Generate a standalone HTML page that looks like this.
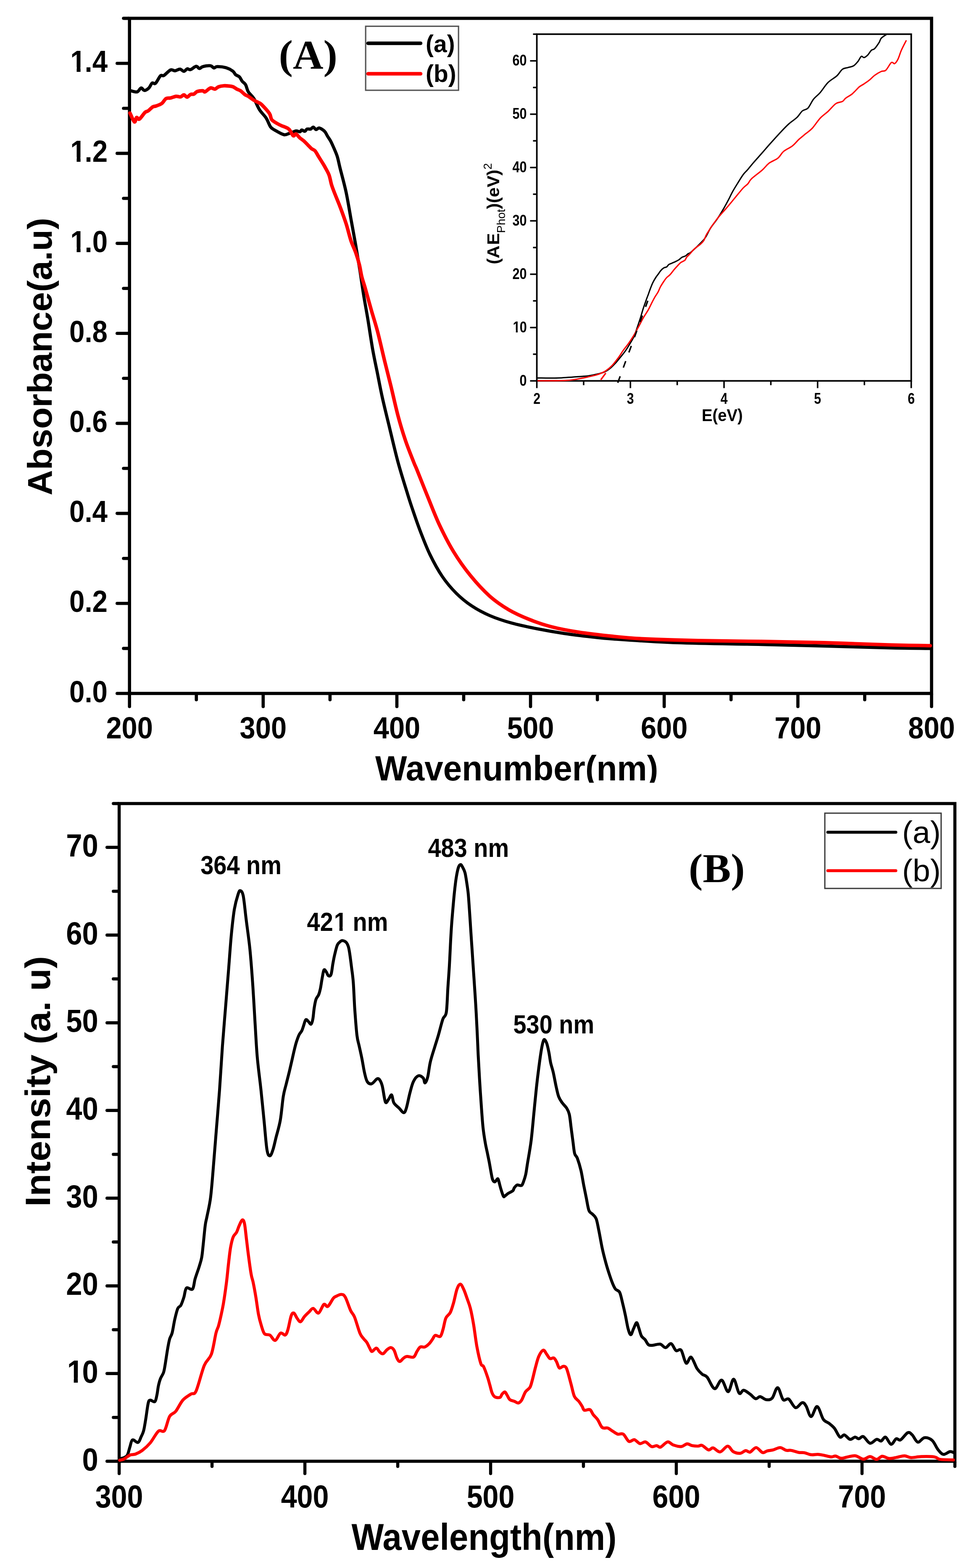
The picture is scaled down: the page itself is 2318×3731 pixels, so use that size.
<!DOCTYPE html><html><head><meta charset="utf-8"><title>Absorbance and PL spectra</title>
<style>html,body{margin:0;padding:0;background:#fff;}body{width:2318px;height:3731px;overflow:hidden;}svg{display:block;}</style>
</head><body>
<svg width="2318" height="3731" viewBox="0 0 2318 3731">
<rect width="2318" height="3731" fill="#fff"/>
<g stroke="#000" stroke-width="7.6" stroke-linecap="round" fill="none">
<line x1="308.2" y1="1652" x2="308.2" y2="1681.2"/>
<line x1="626.3" y1="1652" x2="626.3" y2="1681.2"/>
<line x1="944.5" y1="1652" x2="944.5" y2="1681.2"/>
<line x1="1262.6" y1="1652" x2="1262.6" y2="1681.2"/>
<line x1="1580.7" y1="1652" x2="1580.7" y2="1681.2"/>
<line x1="1898.9" y1="1652" x2="1898.9" y2="1681.2"/>
<line x1="2217" y1="1652" x2="2217" y2="1681.2"/>
<line x1="467.3" y1="1652" x2="467.3" y2="1665"/>
<line x1="785.4" y1="1652" x2="785.4" y2="1665"/>
<line x1="1103.5" y1="1652" x2="1103.5" y2="1665"/>
<line x1="1421.7" y1="1652" x2="1421.7" y2="1665"/>
<line x1="1739.8" y1="1652" x2="1739.8" y2="1665"/>
<line x1="2057.9" y1="1652" x2="2057.9" y2="1665"/>
<line x1="306.2" y1="1650" x2="278.8" y2="1650"/>
<line x1="306.2" y1="1435.8" x2="278.8" y2="1435.8"/>
<line x1="306.2" y1="1221.6" x2="278.8" y2="1221.6"/>
<line x1="306.2" y1="1007.4" x2="278.8" y2="1007.4"/>
<line x1="306.2" y1="793.3" x2="278.8" y2="793.3"/>
<line x1="306.2" y1="579.1" x2="278.8" y2="579.1"/>
<line x1="306.2" y1="364.9" x2="278.8" y2="364.9"/>
<line x1="306.2" y1="150.7" x2="278.8" y2="150.7"/>
<line x1="306.2" y1="1542.9" x2="294" y2="1542.9"/>
<line x1="306.2" y1="1328.7" x2="294" y2="1328.7"/>
<line x1="306.2" y1="1114.5" x2="294" y2="1114.5"/>
<line x1="306.2" y1="900.3" x2="294" y2="900.3"/>
<line x1="306.2" y1="686.2" x2="294" y2="686.2"/>
<line x1="306.2" y1="472" x2="294" y2="472"/>
<line x1="306.2" y1="257.8" x2="294" y2="257.8"/>
<line x1="306.2" y1="43.6" x2="294" y2="43.6"/>
</g>
<rect x="308.2" y="43.6" width="1908.8" height="1606.4" fill="none" stroke="#000" stroke-width="7.6"/>
<text transform="translate(308.2,1757) scale(0.935,1)" font-family="'Liberation Sans', Arial, sans-serif" font-size="71.5" font-weight="bold" text-anchor="middle">200</text>
<text transform="translate(626.3,1757) scale(0.935,1)" font-family="'Liberation Sans', Arial, sans-serif" font-size="71.5" font-weight="bold" text-anchor="middle">300</text>
<text transform="translate(944.5,1757) scale(0.935,1)" font-family="'Liberation Sans', Arial, sans-serif" font-size="71.5" font-weight="bold" text-anchor="middle">400</text>
<text transform="translate(1262.6,1757) scale(0.935,1)" font-family="'Liberation Sans', Arial, sans-serif" font-size="71.5" font-weight="bold" text-anchor="middle">500</text>
<text transform="translate(1580.7,1757) scale(0.935,1)" font-family="'Liberation Sans', Arial, sans-serif" font-size="71.5" font-weight="bold" text-anchor="middle">600</text>
<text transform="translate(1898.9,1757) scale(0.935,1)" font-family="'Liberation Sans', Arial, sans-serif" font-size="71.5" font-weight="bold" text-anchor="middle">700</text>
<text transform="translate(2217,1757) scale(0.935,1)" font-family="'Liberation Sans', Arial, sans-serif" font-size="71.5" font-weight="bold" text-anchor="middle">800</text>
<text transform="translate(256,1670.5) scale(0.915,1)" font-family="'Liberation Sans', Arial, sans-serif" font-size="71.5" font-weight="bold" text-anchor="end">0.0</text>
<text transform="translate(256,1456.3) scale(0.915,1)" font-family="'Liberation Sans', Arial, sans-serif" font-size="71.5" font-weight="bold" text-anchor="end">0.2</text>
<text transform="translate(256,1242.1) scale(0.915,1)" font-family="'Liberation Sans', Arial, sans-serif" font-size="71.5" font-weight="bold" text-anchor="end">0.4</text>
<text transform="translate(256,1027.9) scale(0.915,1)" font-family="'Liberation Sans', Arial, sans-serif" font-size="71.5" font-weight="bold" text-anchor="end">0.6</text>
<text transform="translate(256,813.8) scale(0.915,1)" font-family="'Liberation Sans', Arial, sans-serif" font-size="71.5" font-weight="bold" text-anchor="end">0.8</text>
<text transform="translate(256,599.6) scale(0.915,1)" x="-99.39" font-family="'Liberation Sans', Arial, sans-serif" font-size="71.5" font-weight="bold"><tspan dx="2.44">1</tspan><tspan dx="-2.44">.</tspan>0</text>
<g transform="translate(256,599.6) scale(0.915,1)" fill="#fff"><rect x="-93.46" y="-11.52" width="13.13" height="13.62"/><rect x="-70.38" y="-11.52" width="12.36" height="13.62"/></g>
<text transform="translate(256,385.4) scale(0.915,1)" x="-99.39" font-family="'Liberation Sans', Arial, sans-serif" font-size="71.5" font-weight="bold"><tspan dx="2.44">1</tspan><tspan dx="-2.44">.</tspan>2</text>
<g transform="translate(256,385.4) scale(0.915,1)" fill="#fff"><rect x="-93.46" y="-11.52" width="13.13" height="13.62"/><rect x="-70.38" y="-11.52" width="12.36" height="13.62"/></g>
<text transform="translate(256,171.2) scale(0.915,1)" x="-99.39" font-family="'Liberation Sans', Arial, sans-serif" font-size="71.5" font-weight="bold"><tspan dx="2.44">1</tspan><tspan dx="-2.44">.</tspan>4</text>
<g transform="translate(256,171.2) scale(0.915,1)" fill="#fff"><rect x="-93.46" y="-11.52" width="13.13" height="13.62"/><rect x="-70.38" y="-11.52" width="12.36" height="13.62"/></g>
<text transform="translate(123.4,848.4) rotate(-90) scale(1.021,1)" font-family="'Liberation Sans', Arial, sans-serif" font-size="82" font-weight="bold" text-anchor="middle">Absorbance(a.u)</text>
<text transform="translate(1229.7,1856.6) scale(0.965,1)" font-family="'Liberation Sans', Arial, sans-serif" font-size="83" font-weight="bold" text-anchor="middle">Wavenumber(nm)</text>
<text transform="translate(663.5,162.8) scale(1.025,1)" font-family="'Liberation Serif', 'Times New Roman', serif" font-size="98" font-weight="bold" text-anchor="start">(A)</text>
<rect x="870.2" y="62.5" width="221" height="152.3" fill="#fff" stroke="#555" stroke-width="3.2"/>
<line x1="876" y1="102.9" x2="1001" y2="102.9" stroke="#000" stroke-width="8.5" stroke-linecap="round"/>
<line x1="876" y1="175.6" x2="1001" y2="175.6" stroke="#ff0000" stroke-width="8.5" stroke-linecap="round"/>
<text transform="translate(1013,123.5)" font-family="'Liberation Sans', Arial, sans-serif" font-size="57" font-weight="bold" text-anchor="start">(a)</text>
<text transform="translate(1013,195)" font-family="'Liberation Sans', Arial, sans-serif" font-size="57" font-weight="bold" text-anchor="start">(b)</text>
<g stroke="#000" stroke-width="3.6" stroke-linecap="butt" fill="none">
<line x1="1277.6" y1="906.3" x2="1277.6" y2="923.5"/>
<line x1="1500.3" y1="906.3" x2="1500.3" y2="923.5"/>
<line x1="1723.1" y1="906.3" x2="1723.1" y2="923.5"/>
<line x1="1945.8" y1="906.3" x2="1945.8" y2="923.5"/>
<line x1="2168.6" y1="906.3" x2="2168.6" y2="923.5"/>
<line x1="1389" y1="906.3" x2="1389" y2="916.5"/>
<line x1="1611.7" y1="906.3" x2="1611.7" y2="916.5"/>
<line x1="1834.5" y1="906.3" x2="1834.5" y2="916.5"/>
<line x1="2057.2" y1="906.3" x2="2057.2" y2="916.5"/>
<line x1="1277.6" y1="906.3" x2="1261.5" y2="906.3"/>
<line x1="1277.6" y1="779.4" x2="1261.5" y2="779.4"/>
<line x1="1277.6" y1="652.5" x2="1261.5" y2="652.5"/>
<line x1="1277.6" y1="525.5" x2="1261.5" y2="525.5"/>
<line x1="1277.6" y1="398.6" x2="1261.5" y2="398.6"/>
<line x1="1277.6" y1="271.7" x2="1261.5" y2="271.7"/>
<line x1="1277.6" y1="144.8" x2="1261.5" y2="144.8"/>
<line x1="1277.6" y1="842.8" x2="1268.5" y2="842.8"/>
<line x1="1277.6" y1="715.9" x2="1268.5" y2="715.9"/>
<line x1="1277.6" y1="589" x2="1268.5" y2="589"/>
<line x1="1277.6" y1="462.1" x2="1268.5" y2="462.1"/>
<line x1="1277.6" y1="335.1" x2="1268.5" y2="335.1"/>
<line x1="1277.6" y1="208.2" x2="1268.5" y2="208.2"/>
<line x1="1277.6" y1="81.3" x2="1268.5" y2="81.3"/>
</g>
<rect x="1277.6" y="81.3" width="891" height="825" fill="none" stroke="#000" stroke-width="3.8"/>
<text transform="translate(1277.6,961) scale(0.820,1)" font-family="'Liberation Sans', Arial, sans-serif" font-size="37" font-weight="bold" text-anchor="middle">2</text>
<text transform="translate(1500.3,961) scale(0.820,1)" font-family="'Liberation Sans', Arial, sans-serif" font-size="37" font-weight="bold" text-anchor="middle">3</text>
<text transform="translate(1723.1,961) scale(0.820,1)" font-family="'Liberation Sans', Arial, sans-serif" font-size="37" font-weight="bold" text-anchor="middle">4</text>
<text transform="translate(1945.8,961) scale(0.820,1)" font-family="'Liberation Sans', Arial, sans-serif" font-size="37" font-weight="bold" text-anchor="middle">5</text>
<text transform="translate(2168.6,961) scale(0.820,1)" font-family="'Liberation Sans', Arial, sans-serif" font-size="37" font-weight="bold" text-anchor="middle">6</text>
<text transform="translate(1253.7,917.8) scale(0.830,1)" font-family="'Liberation Sans', Arial, sans-serif" font-size="37" font-weight="bold" text-anchor="end">0</text>
<text transform="translate(1253.7,790.9) scale(0.830,1)" x="-41.16" font-family="'Liberation Sans', Arial, sans-serif" font-size="37" font-weight="bold"><tspan dx="1.26">1</tspan><tspan dx="-1.26">0</tspan></text>
<g transform="translate(1253.7,790.9) scale(0.830,1)" fill="#fff"><rect x="-38.08" y="-5.96" width="6.79" height="7.05"/><rect x="-26.14" y="-5.96" width="6.40" height="7.05"/></g>
<text transform="translate(1253.7,664) scale(0.830,1)" font-family="'Liberation Sans', Arial, sans-serif" font-size="37" font-weight="bold" text-anchor="end">20</text>
<text transform="translate(1253.7,537) scale(0.830,1)" font-family="'Liberation Sans', Arial, sans-serif" font-size="37" font-weight="bold" text-anchor="end">30</text>
<text transform="translate(1253.7,410.1) scale(0.830,1)" font-family="'Liberation Sans', Arial, sans-serif" font-size="37" font-weight="bold" text-anchor="end">40</text>
<text transform="translate(1253.7,283.2) scale(0.830,1)" font-family="'Liberation Sans', Arial, sans-serif" font-size="37" font-weight="bold" text-anchor="end">50</text>
<text transform="translate(1253.7,156.3) scale(0.830,1)" font-family="'Liberation Sans', Arial, sans-serif" font-size="37" font-weight="bold" text-anchor="end">60</text>
<text transform="translate(1718.9,1002.2) scale(0.935,1)" font-family="'Liberation Sans', Arial, sans-serif" font-size="41" font-weight="bold" text-anchor="middle">E(eV)</text>
<text transform="translate(1188.3,508.5) rotate(-90) scale(1.03,1)" font-family="'Liberation Sans', Arial, sans-serif" font-size="41" font-weight="bold" text-anchor="middle">(A<tspan dx="1.5">E</tspan><tspan font-size="27" font-weight="normal" dy="14">Phot</tspan><tspan dy="-14">)(eV)</tspan><tspan font-size="27" font-weight="normal" dy="-18">2</tspan></text>
<path d="M1279,899.3C1287.2,899.3 1310.2,900 1328.4,899.3C1346.6,898.6 1376.1,896.1 1388,895.3C1399.9,894.5 1394,895.3 1400,894.3C1406,893.3 1417.2,891.1 1423.8,889.5C1430.3,887.9 1434.3,887.2 1439.3,884.8C1444.3,882.4 1449.2,878.8 1453.6,875.2C1458,871.6 1461.5,867.7 1465.5,863.3C1469.5,858.9 1473.4,854 1477.4,849C1481.4,844 1485.3,839.4 1489.3,833.6C1493.3,827.9 1497.8,820.3 1501.2,814.5C1504.6,808.7 1506.9,805 1509.5,799C1512.1,793 1514.3,785.7 1516.7,778.8C1519.1,771.9 1521.4,764.9 1523.8,757.4C1526.2,749.9 1528.6,741 1531,733.6C1533.4,726.2 1536.1,718.9 1538.1,713.3C1540.1,707.6 1541.5,704.4 1543.2,699.7C1544.9,695 1546.7,689.5 1548.5,684.9C1550.3,680.3 1551.7,676.4 1553.8,672.2C1555.9,668 1558.9,663 1561.2,659.5C1563.5,656 1565.6,653.6 1567.5,651C1569.4,648.4 1570.7,645.9 1572.8,643.6C1574.9,641.3 1577.9,638.6 1580.2,637.2C1582.5,635.8 1584.6,636.4 1586.6,635.1C1588.5,633.8 1589.8,630.8 1591.9,629.3C1594,627.8 1596.5,627.3 1599.3,626.1C1602.1,624.9 1606,623.3 1608.8,621.9C1611.6,620.5 1613.7,619.4 1616.2,617.7C1618.7,616 1621.1,613.3 1623.6,611.9C1626.1,610.5 1628.7,610.5 1631,609.2C1633.3,607.9 1635.1,605.5 1637.4,603.9C1639.7,602.3 1639.5,604.3 1644.8,599.7C1650.1,595.1 1663.6,582.3 1669.3,576.4C1675,570.5 1675.6,570.1 1679.2,564.5C1682.8,558.9 1686.5,550 1691.1,542.7C1695.7,535.4 1701.7,528.8 1707,520.9C1712.3,513 1718.3,503 1722.9,495.1C1727.5,487.2 1731.5,479.6 1734.8,473.3C1738.1,467 1739.4,463.4 1742.7,457.4C1746,451.4 1750.3,444.4 1754.6,437.5C1758.9,430.6 1764.3,421.4 1768.5,415.7C1772.7,409.9 1775.9,407.8 1780,403C1784.1,398.2 1787.5,393.6 1793.2,387C1798.9,380.4 1807.8,370.6 1814.4,363.1C1821,355.6 1825.4,350.3 1832.9,341.9C1840.4,333.5 1851.9,320.7 1859.4,312.8C1866.9,304.9 1871.7,299.8 1877.9,294.3C1884.1,288.8 1891.1,284.8 1896.4,279.7C1901.7,274.6 1905.2,267.6 1909.6,263.9C1914,260.1 1918.5,261.8 1922.9,257.2C1927.3,252.6 1931.2,242.3 1936.1,236.1C1940.9,229.9 1946.3,226.8 1952,220.2C1957.7,213.6 1963.9,203 1970.5,196.4C1977.1,189.8 1985.9,185.8 1991.6,180.5C1997.3,175.2 2000.5,168 2004.9,164.7C2009.3,161.4 2013.6,162 2018,160.7C2022.4,159.4 2027.3,159.1 2031.3,156.7C2035.3,154.3 2038.8,149.8 2041.9,146.1C2045,142.3 2047.4,135.7 2049.8,134.2C2052.2,132.7 2053.8,137.6 2056.5,136.9C2059.2,136.2 2062.8,133.2 2065.7,130.3C2068.6,127.4 2071,122.1 2073.7,119.7C2076.3,117.3 2078.5,118.8 2081.6,115.7C2084.7,112.6 2089.5,105.4 2092.2,101.2C2094.8,97 2094.4,93.9 2097.5,90.6C2100.6,87.3 2108.5,82.8 2110.7,81.3" fill="none" stroke="#000" stroke-width="3.2" stroke-linejoin="round"/>
<path d="M1279,906C1290.5,905.9 1330.1,906.3 1348.3,905.2C1366.5,904.1 1379.4,900.7 1388,899.3C1396.6,897.9 1394,898.1 1400,896.7C1406,895.3 1416.8,893.1 1423.8,890.7C1430.8,888.3 1436.2,886 1441.7,882.4C1447.2,878.8 1452.1,874.5 1457.1,869.3C1462,864.1 1467,857.3 1471.4,851.4C1475.8,845.5 1479.3,839.1 1483.3,833.6C1487.3,828.1 1491.2,823.7 1495.2,818.1C1499.2,812.5 1503.1,806.8 1507.1,800.2C1511.1,793.7 1515,786.1 1519,778.8C1523,771.5 1527,763.2 1531,756.2C1535,749.2 1539.4,743.3 1542.9,737.1C1546.4,730.9 1549.3,724.2 1552,719C1554.7,713.8 1556.7,710 1559,706C1561.3,702 1563.8,699 1566,695C1568.2,691 1569.6,686.3 1572,682C1574.4,677.7 1577.8,672.6 1580.2,669C1582.6,665.4 1584.1,663.1 1586.6,660.5C1589.1,657.9 1592.2,656.1 1595,653.1C1597.8,650.1 1600.7,645.9 1603.5,642.5C1606.3,639.1 1609.2,636 1612,633C1614.8,630 1617.4,626.9 1620.4,624.6C1623.4,622.3 1627.6,621.4 1629.9,619.3C1632.2,617.2 1632.2,614.4 1634.2,611.9C1636.2,609.4 1639,607.2 1641.6,604.4C1644.2,601.6 1647.2,597.7 1650,594.9C1652.8,592.1 1655.7,589.8 1658.5,587.5C1661.3,585.2 1664.2,583.9 1667,581.2C1669.8,578.6 1672.8,575.8 1675.4,571.6C1678,567.4 1677.6,564.1 1682.5,556C1687.4,547.9 1697.3,533 1705,522.9C1712.7,512.8 1721.5,503.7 1728.8,495.1C1736.1,486.5 1742.1,479.2 1748.7,471.3C1755.3,463.4 1763.3,453.2 1768.5,447.5C1773.7,441.8 1776.7,440.8 1780,437.1C1783.3,433.5 1782.6,431 1788.3,425.6C1794,420.2 1807.2,410.7 1814.2,404.5C1821.2,398.3 1823.8,393.2 1830,388.5C1836.2,383.8 1845.6,381 1851.4,376.3C1857.2,371.6 1859,365.2 1864.7,360.4C1870.4,355.5 1879.6,352 1885.8,347.2C1892,342.4 1896.4,336.1 1901.7,331.3C1907,326.5 1912.3,322.5 1917.6,318.1C1922.9,313.7 1927.7,311.1 1933.4,304.9C1939.1,298.7 1945.8,287.7 1952,281.1C1958.2,274.5 1964.3,270.9 1970.5,265.2C1976.7,259.5 1983.3,250.7 1989,246.7C1994.7,242.7 2000.9,243.6 2004.9,241.4C2008.9,239.2 2008.8,236.5 2012.8,233.4C2016.8,230.3 2023.4,227.3 2028.7,222.9C2034,218.5 2040.2,210.8 2044.6,207C2049,203.2 2051.1,203.1 2055.1,200.4C2059.1,197.8 2064,194.6 2068.4,191.1C2072.8,187.6 2076.8,182.7 2081.6,179.2C2086.4,175.7 2093.1,171.9 2097.5,169.9C2101.9,167.9 2104,170.8 2108,167.3C2112,163.8 2117.8,151.5 2121.3,148.8C2124.8,146.2 2126.6,152.7 2129.2,151.4C2131.8,150.1 2134.4,146.1 2137.1,140.8C2139.8,135.5 2141.8,127.2 2145.1,119.7C2148.4,112.2 2155,99.9 2157,95.9" fill="none" stroke="#ff0000" stroke-width="3.2" stroke-linejoin="round"/>
<line x1="1470.2" y1="910.9" x2="1541.7" y2="715.7" stroke="#000" stroke-width="3.6" stroke-dasharray="16.5 22"/>
<line x1="1429.8" y1="903.8" x2="1441.7" y2="887.7" stroke="#ff0000" stroke-width="3.6"/>
<path d="M309,214C309.5,214.3 309,215.2 311.9,216C314.8,216.8 322.5,219.7 326.5,218.6C330.5,217.5 332.8,210 335.7,209.4C338.6,208.8 340.6,215.2 343.7,215.2C346.8,215.2 351.1,212.3 354.2,209.4C357.3,206.5 359.5,199.3 362.2,197.5C364.9,195.7 366.8,201.2 370.1,198.3C373.4,195.4 378.7,183.4 382,180.3C385.3,177.2 386,182 390,179.7C394,177.4 401.4,168.4 405.8,166.5C410.2,164.6 412.6,168.8 416.4,168.4C420.1,168.1 424.8,164.2 428.3,164.4C431.8,164.6 434.7,169.8 437.6,169.7C440.5,169.6 442.9,164.6 445.5,163.9C448.1,163.2 449.9,166.7 453.4,165.7C456.9,164.7 463.2,158.2 466.7,157.8C470.2,157.4 472,163 474.6,163.1C477.2,163.2 478.1,159.7 482.5,158.6C486.9,157.5 496.6,156 501,156.5C505.4,157 506.4,161.3 509,161.7C511.6,162 512,158.7 516.9,158.6C521.8,158.5 531.9,159.4 538.1,161.2C544.3,163 550.2,166.5 554,169.2C557.8,171.9 558,175.3 560.6,177.6C563.2,179.9 567.1,180.2 569.8,182.9C572.4,185.6 574.1,190.4 576.5,193.5C578.9,196.6 582,197.2 584.4,201.4C586.8,205.6 587.7,213.1 591,218.6C594.3,224.1 599.8,227.4 604.2,234.5C608.6,241.6 612.6,253.3 617.5,261C622.4,268.7 628.9,274 633.3,280.8C637.7,287.6 640.4,297.1 643.9,302C647.4,306.9 649.2,306.8 654.5,309.9C659.8,313 670,319.3 675.7,320.5C681.4,321.7 684.6,318.5 688.5,317.3C692.4,316.1 696.2,314.5 699,313.5C701.8,312.5 702.9,311.4 705.4,311.4C707.9,311.4 711.8,313.9 713.9,313.5C716,313.1 716.2,309.5 718.1,309.3C720,309.1 723.4,312.8 725.5,312.4C727.6,312 728.5,308 730.8,307.1C733.1,306.2 736.8,307.9 739.3,307.1C741.8,306.3 743.5,302.3 745.6,302.5C747.7,302.7 749.7,307.8 752,308.2C754.3,308.6 756.6,304.4 759.4,304.6C762.2,304.8 766.4,307.6 768.9,309.3C771.4,311 772.4,312.1 774.2,314.6C776,317.1 777.4,320.6 779.5,324.1C781.6,327.6 784.4,331.1 786.9,335.7C789.4,340.3 791.6,345.4 794.3,351.6C796.9,357.8 800.3,364.7 802.8,372.8C805.3,380.9 805.8,385.9 809.3,400C812.8,414.1 819.4,437.4 823.7,457.5C828,477.6 831.4,499.7 835.2,520.8C839,541.9 843.1,563.5 846.7,584.1C850.3,604.7 853.6,624.9 856.7,644.5C859.8,664.1 862.3,682.8 865.4,702C868.5,721.2 871.8,737.9 875.4,759.5C879,781.1 883.1,809.8 886.9,831.4C890.7,853 894.5,869.7 898.4,888.9C902.2,908.1 905.2,924.8 910,946.4C914.8,968 921,992.7 927.2,1018.3C933.4,1043.9 940.4,1074.6 947.3,1100C954.2,1125.4 963,1152.9 968.5,1170.7C974,1188.5 974.8,1191.2 980,1206.6C985.2,1221.9 992.6,1244.1 999.8,1262.8C1007,1281.5 1014.2,1300.8 1023,1319C1031.8,1337.2 1042.3,1356.6 1052.8,1372C1063.3,1387.4 1074.2,1400 1085.8,1411.6C1097.4,1423.2 1109,1432.6 1122.2,1441.4C1135.4,1450.2 1149.2,1457.7 1165.2,1464.6C1181.2,1471.5 1199.4,1477.5 1218.1,1482.7C1236.8,1487.9 1256.6,1491.9 1277.6,1496C1298.5,1500.1 1321.8,1504.2 1343.8,1507.5C1365.8,1510.8 1390.5,1513.6 1409.9,1515.8C1429.3,1518 1426.5,1518.2 1460,1520.5C1493.5,1522.8 1552.2,1527.1 1610.8,1529.3C1669.4,1531.5 1753.2,1532.1 1811.8,1533.4C1870.4,1534.7 1912.2,1535.9 1962.5,1537.2C2012.8,1538.5 2071.4,1540.5 2113.3,1541.5C2155.2,1542.5 2197.1,1542.8 2213.8,1543" fill="none" stroke="#000" stroke-width="7.5" stroke-linejoin="round" stroke-linecap="round"/>
<path d="M309.3,268.9C311.1,272.4 317.2,288.2 319.8,290C322.4,291.8 323.1,280.6 325.1,279.5C327.1,278.4 328.4,285.4 331.7,283.4C335,281.4 341.5,270.9 345,267.6C348.5,264.3 349.8,265.8 352.9,263.6C356,261.4 360.4,256.2 363.5,254.3C366.6,252.4 367.9,253.5 371.4,252.2C374.9,250.9 380.7,249.3 384.7,246.4C388.7,243.5 391.7,236.7 395.2,234.5C398.7,232.3 401.8,234.1 405.8,233.2C409.8,232.3 415,229.6 419,229.2C423,228.8 426.5,231.1 429.6,230.5C432.7,229.9 435,225.7 437.6,225.8C440.2,225.9 442.9,231.2 445.5,231C448.1,230.8 450.8,225.9 453.4,224.7C456,223.5 458.8,225.1 461.4,223.9C464,222.8 465.8,219.1 469.3,217.8C472.8,216.5 479.4,215.9 482.5,216C485.6,216.1 484.7,219.7 487.8,218.6C490.9,217.5 497,210.5 501,209.4C505,208.3 508.5,212.4 511.6,212C514.7,211.6 516.1,208 519.6,206.7C523.1,205.4 528.8,204.4 532.8,204.1C536.8,203.8 539.9,204.2 543.4,204.6C546.9,204.9 550.5,204.9 554,206.2C557.5,207.5 561.5,210.9 564.6,212.5C567.7,214.1 569.4,213.9 572.5,216C575.6,218.1 579.9,223 583,225.2C586.1,227.4 587.5,227 591,229.2C594.5,231.4 600.2,236.1 604.2,238.5C608.2,240.9 611.7,242.1 614.8,243.8C617.9,245.6 618.4,244.6 622.8,249C627.2,253.4 637.3,264.2 641.3,270.2C645.3,276.2 643.5,280.8 646.6,284.8C649.7,288.8 655.8,291.6 659.8,294C663.8,296.4 667,297.8 670.4,299.3C673.8,300.8 677,301.4 680,302.9C683,304.4 685.5,304.8 688.5,308.2C691.5,311.6 695.4,321.2 698,323C700.6,324.8 701.6,317.9 704.3,318.8C706.9,319.7 710.9,325.7 713.9,328.3C716.9,330.9 719.1,331.9 722.3,334.7C725.5,337.5 729.7,342 732.9,345.2C736.1,348.4 738.6,351.4 741.4,353.7C744.2,356 747,355.8 749.8,359C752.6,362.2 755.1,367.7 758.3,372.8C761.5,377.9 766.1,385.2 768.9,389.7C771.6,394.2 772.4,395.4 774.8,400C777.2,404.6 781,410.6 783.4,417.3C785.8,424 786.8,432.6 789.2,440.3C791.6,448 794.4,454.7 797.8,463.3C801.1,471.9 805,480.5 809.3,492C813.6,503.5 819.4,518.9 823.7,532.3C828,545.7 831.4,561.1 835.2,572.6C839,584.1 843.4,591.7 846.7,601.3C850.1,610.9 852.9,620.5 855.3,630.1C857.7,639.7 858.7,649.2 861.1,658.8C863.5,668.4 865.9,674.2 869.7,687.6C873.5,701 879.3,722.6 884.1,739.4C888.9,756.2 893.1,768.2 898.4,788.3C903.7,808.4 910.4,838.6 915.7,860.2C921,881.8 924.8,896.1 930.1,917.7C935.4,939.3 941.5,968 947.3,989.6C953,1011.2 958.4,1028.7 964.6,1047.1C970.8,1065.5 980.1,1088.2 984.7,1100C989.3,1111.8 986.6,1103.8 992.3,1117.8C998,1131.8 1009.7,1161.9 1018.7,1183.9C1027.7,1205.9 1036,1228.2 1046.1,1249.6C1056.2,1271 1067.1,1292.6 1079.2,1312.4C1091.3,1332.2 1104.6,1351.1 1118.9,1368.7C1133.2,1386.3 1149.8,1404.5 1165.2,1418.3C1180.6,1432.1 1195.5,1441.9 1211.5,1451.3C1227.5,1460.7 1244.6,1467.9 1261.1,1474.5C1277.6,1481.1 1291.4,1486 1310.7,1491C1330,1496 1351.9,1500.3 1376.8,1504.2C1401.7,1508.1 1433.6,1511.6 1460,1514.3C1486.4,1517 1501.9,1518.6 1535.4,1520.3C1568.9,1522 1614.9,1523.3 1661,1524.3C1707.1,1525.3 1761.5,1525.5 1811.8,1526.3C1862,1527.1 1912.2,1527.9 1962.5,1529.3C2012.8,1530.7 2071.4,1533.2 2113.3,1534.4C2155.2,1535.6 2197.1,1536.1 2213.8,1536.4" fill="none" stroke="#ff0000" stroke-width="8.4" stroke-linejoin="round" stroke-linecap="round"/>
<rect x="0" y="1862.5" width="2318" height="40" fill="#fff"/>
<g stroke="#000" stroke-width="7.4" stroke-linecap="round" fill="none">
<line x1="283.6" y1="3479" x2="283.6" y2="3506.3"/>
<line x1="725.6" y1="3479" x2="725.6" y2="3506.3"/>
<line x1="1167.6" y1="3479" x2="1167.6" y2="3506.3"/>
<line x1="1609.5" y1="3479" x2="1609.5" y2="3506.3"/>
<line x1="2051.5" y1="3479" x2="2051.5" y2="3506.3"/>
<line x1="504.6" y1="3479" x2="504.6" y2="3489.3"/>
<line x1="946.6" y1="3479" x2="946.6" y2="3489.3"/>
<line x1="1388.5" y1="3479" x2="1388.5" y2="3489.3"/>
<line x1="1830.5" y1="3479" x2="1830.5" y2="3489.3"/>
<line x1="2272.5" y1="3479" x2="2272.5" y2="3489.3"/>
<line x1="281.6" y1="3477" x2="254.7" y2="3477"/>
<line x1="281.6" y1="3268.3" x2="254.7" y2="3268.3"/>
<line x1="281.6" y1="3059.7" x2="254.7" y2="3059.7"/>
<line x1="281.6" y1="2851" x2="254.7" y2="2851"/>
<line x1="281.6" y1="2642.3" x2="254.7" y2="2642.3"/>
<line x1="281.6" y1="2433.7" x2="254.7" y2="2433.7"/>
<line x1="281.6" y1="2225" x2="254.7" y2="2225"/>
<line x1="281.6" y1="2016.3" x2="254.7" y2="2016.3"/>
<line x1="281.6" y1="3372.7" x2="269.7" y2="3372.7"/>
<line x1="281.6" y1="3164" x2="269.7" y2="3164"/>
<line x1="281.6" y1="2955.3" x2="269.7" y2="2955.3"/>
<line x1="281.6" y1="2746.7" x2="269.7" y2="2746.7"/>
<line x1="281.6" y1="2538" x2="269.7" y2="2538"/>
<line x1="281.6" y1="2329.3" x2="269.7" y2="2329.3"/>
<line x1="281.6" y1="2120.7" x2="269.7" y2="2120.7"/>
<line x1="281.6" y1="1912" x2="269.7" y2="1912"/>
</g>
<rect x="283.6" y="1912" width="1988.9" height="1565" fill="none" stroke="#000" stroke-width="7.4"/>
<text transform="translate(283.6,3587) scale(0.898,1)" font-family="'Liberation Sans', Arial, sans-serif" font-size="76" font-weight="bold" text-anchor="middle">300</text>
<text transform="translate(725.6,3587) scale(0.898,1)" font-family="'Liberation Sans', Arial, sans-serif" font-size="76" font-weight="bold" text-anchor="middle">400</text>
<text transform="translate(1167.6,3587) scale(0.898,1)" font-family="'Liberation Sans', Arial, sans-serif" font-size="76" font-weight="bold" text-anchor="middle">500</text>
<text transform="translate(1609.5,3587) scale(0.898,1)" font-family="'Liberation Sans', Arial, sans-serif" font-size="76" font-weight="bold" text-anchor="middle">600</text>
<text transform="translate(2051.5,3587) scale(0.898,1)" font-family="'Liberation Sans', Arial, sans-serif" font-size="76" font-weight="bold" text-anchor="middle">700</text>
<text transform="translate(233.8,3498.5) scale(0.905,1)" font-family="'Liberation Sans', Arial, sans-serif" font-size="76" font-weight="bold" text-anchor="end">0</text>
<text transform="translate(233.8,3289.8) scale(0.905,1)" x="-84.54" font-family="'Liberation Sans', Arial, sans-serif" font-size="76" font-weight="bold"><tspan dx="2.60">1</tspan><tspan dx="-2.60">0</tspan></text>
<g transform="translate(233.8,3289.8) scale(0.905,1)" fill="#fff"><rect x="-78.23" y="-12.25" width="13.95" height="14.47"/><rect x="-53.70" y="-12.25" width="13.14" height="14.47"/></g>
<text transform="translate(233.8,3081.2) scale(0.905,1)" font-family="'Liberation Sans', Arial, sans-serif" font-size="76" font-weight="bold" text-anchor="end">20</text>
<text transform="translate(233.8,2872.5) scale(0.905,1)" font-family="'Liberation Sans', Arial, sans-serif" font-size="76" font-weight="bold" text-anchor="end">30</text>
<text transform="translate(233.8,2663.8) scale(0.905,1)" font-family="'Liberation Sans', Arial, sans-serif" font-size="76" font-weight="bold" text-anchor="end">40</text>
<text transform="translate(233.8,2455.2) scale(0.905,1)" font-family="'Liberation Sans', Arial, sans-serif" font-size="76" font-weight="bold" text-anchor="end">50</text>
<text transform="translate(233.8,2246.5) scale(0.905,1)" font-family="'Liberation Sans', Arial, sans-serif" font-size="76" font-weight="bold" text-anchor="end">60</text>
<text transform="translate(233.8,2037.8) scale(0.905,1)" font-family="'Liberation Sans', Arial, sans-serif" font-size="76" font-weight="bold" text-anchor="end">70</text>
<text transform="translate(119.1,2572.9) rotate(-90) scale(1.047,1)" font-family="'Liberation Sans', Arial, sans-serif" font-size="84" font-weight="bold" text-anchor="middle">Intensity (a. u)</text>
<text transform="translate(1152,3687.8) scale(0.921,1)" font-family="'Liberation Sans', Arial, sans-serif" font-size="88.5" font-weight="bold" text-anchor="middle">Wavelength(nm)</text>
<text transform="translate(1639,2098.5) scale(1.030,1)" font-family="'Liberation Serif', 'Times New Roman', serif" font-size="97.4" font-weight="bold" text-anchor="start">(B)</text>
<text transform="translate(573.6,2079.7) scale(0.895,1)" font-family="'Liberation Sans', Arial, sans-serif" font-size="62.5" font-weight="bold" text-anchor="middle">364 nm</text>
<text transform="translate(827,2215.3) scale(0.895,1)" x="-107.70" font-family="'Liberation Sans', Arial, sans-serif" font-size="62.5" font-weight="bold">42<tspan dx="2.14">1</tspan><tspan dx="-2.14"> </tspan>nm</text>
<g transform="translate(827,2215.3) scale(0.895,1)" fill="#fff"><rect x="-32.99" y="-10.07" width="11.47" height="11.90"/><rect x="-12.82" y="-10.07" width="10.80" height="11.90"/></g>
<text transform="translate(1114.8,2039.4) scale(0.895,1)" font-family="'Liberation Sans', Arial, sans-serif" font-size="62.5" font-weight="bold" text-anchor="middle">483 nm</text>
<text transform="translate(1317.8,2459.3) scale(0.895,1)" font-family="'Liberation Sans', Arial, sans-serif" font-size="62.5" font-weight="bold" text-anchor="middle">530 nm</text>
<rect x="1963" y="1934.9" width="276.8" height="179.1" fill="#fff" stroke="#383838" stroke-width="3"/>
<line x1="1970" y1="1980.2" x2="2132" y2="1980.2" stroke="#000" stroke-width="7" stroke-linecap="round"/>
<line x1="1970" y1="2071.7" x2="2132" y2="2071.7" stroke="#ff0000" stroke-width="7" stroke-linecap="round"/>
<text transform="translate(2147,2006)" font-family="'Liberation Sans', Arial, sans-serif" font-size="75" font-weight="normal" text-anchor="start">(a)</text>
<text transform="translate(2147,2096.6)" font-family="'Liberation Sans', Arial, sans-serif" font-size="75" font-weight="normal" text-anchor="start">(b)</text>
<path d="M284.8,3471C286.4,3470.6 291.5,3470 294.5,3468.6C297.5,3467.2 300.6,3466.8 303,3462.6C305.4,3458.4 307.1,3449.3 309.1,3443.2C311.1,3437.1 312,3428 315.2,3426.2C318.4,3424.4 325.1,3433.5 328.5,3432.3C331.9,3431.1 333.6,3423.6 335.8,3418.9C338,3414.2 340,3411.3 341.8,3404.4C343.6,3397.5 344.9,3388.5 346.7,3377.6C348.5,3366.7 350.9,3346.6 352.7,3338.9C354.5,3331.2 355,3332.2 357.6,3331.6C360.2,3331 365.9,3337.2 368.5,3335.2C371.1,3333.2 372,3325.8 373.4,3319.5C374.8,3313.2 375.6,3304.1 377,3297.6C378.4,3291.1 379.8,3285.8 381.8,3280.6C383.8,3275.3 387.3,3271.3 389.1,3266.1C390.9,3260.8 391.1,3258.4 392.7,3249.1C394.3,3239.8 397,3220.8 398.8,3210.3C400.6,3199.8 401.9,3192.6 403.7,3186.1C405.5,3179.6 407.7,3179.2 409.7,3171.5C411.7,3163.8 413.6,3149.7 415.8,3140C418,3130.3 420.7,3119 423.1,3113.3C425.5,3107.7 427.9,3110.5 430.3,3106.1C432.7,3101.7 435.4,3093.6 437.6,3086.7C439.8,3079.8 440.3,3068 443.7,3064.8C447.1,3061.6 454.8,3070.9 458.2,3067.3C461.6,3063.7 461.7,3051.9 464.3,3043C466.9,3034.1 471.4,3022.4 474,3013.9C476.6,3005.4 478.4,3001 480,2992.1C481.6,2983.2 482.3,2973.4 483.7,2960.6C485.1,2947.8 487,2925.9 488.5,2915C490,2904.1 490.4,2906 492.5,2895C494.6,2884 498.6,2869.6 501.2,2849C503.8,2828.4 505.9,2799.1 508.2,2771.4C510.5,2743.7 512.9,2712.4 515.3,2683C517.7,2653.6 520,2627.1 522.4,2594.7C524.8,2562.3 527,2521.1 529.4,2488.7C531.8,2456.3 534.1,2429.8 536.5,2400.3C538.9,2370.9 541.2,2341.4 543.6,2312C546,2282.6 548.2,2248.4 550.6,2223.7C553,2199 555.1,2179.5 557.7,2163.6C560.4,2147.7 564.1,2135.7 566.5,2128.3C568.9,2120.9 569.7,2118.8 571.8,2119.4C573.9,2120 576.5,2120.3 578.9,2131.8C581.2,2143.3 583.2,2167.1 585.9,2188.3C588.5,2209.5 592.1,2232.5 594.8,2259C597.4,2285.5 599.8,2317.9 601.8,2347.3C603.8,2376.8 605.3,2407.4 607.1,2435.7C608.9,2464 610,2490.5 612.4,2517C614.8,2543.5 618.6,2570 621.2,2594.7C623.9,2619.4 625.9,2641.8 628.3,2665.4C630.7,2689 633,2721.9 635.4,2736C637.8,2750.1 640,2750.2 642.4,2750.2C644.8,2750.2 647.1,2743.1 649.5,2736C651.9,2728.9 653.7,2719.6 656.6,2707.8C659.5,2696 664.2,2681.9 667.1,2665.4C670,2648.9 671.9,2623 674.2,2608.8C676.5,2594.6 678.5,2590.1 681,2580C683.5,2569.9 686.7,2557.7 689,2548C691.3,2538.3 693.2,2530 695,2522C696.8,2514 698.3,2507.1 700,2500C701.7,2492.9 703.4,2485.7 705.4,2479.4C707.4,2473.1 709.6,2466.8 711.7,2462.4C713.8,2458 716.3,2456.4 718.1,2452.9C719.9,2449.4 720.7,2445.7 722.3,2441.3C723.9,2436.9 725.6,2428.3 727.6,2426.5C729.6,2424.7 731.9,2428.9 734,2430.7C736.1,2432.4 738.5,2438.1 740.3,2437C742.1,2435.9 743.4,2430.7 744.6,2424.3C745.8,2418 746.5,2406.7 747.7,2398.9C748.9,2391.2 750.2,2383.1 752,2377.8C753.8,2372.5 756.5,2371.4 758.3,2367.2C760,2363 761.1,2359.1 762.5,2352.4C763.9,2345.7 765.4,2334.4 766.8,2327C768.2,2319.6 769.4,2310.4 771,2307.9C772.6,2305.4 774.5,2309.9 776.3,2312.2C778.1,2314.5 779.7,2320.6 781.6,2321.7C783.5,2322.8 786.1,2323.3 787.9,2318.5C789.7,2313.7 790.8,2300.8 792.2,2293.1C793.6,2285.3 794.6,2279.4 796.4,2272C798.2,2264.6 800.5,2254 802.8,2248.7C805.1,2243.4 808.1,2242 810.2,2240.2C812.3,2238.4 813.1,2237.8 815.4,2238.1C817.7,2238.4 821.6,2239.8 823.9,2242.3C826.2,2244.8 827.8,2248.3 829.2,2252.9C830.6,2257.5 831.2,2261.7 832.4,2269.8C833.6,2277.9 835.2,2290.3 836.6,2301.6C838,2312.9 839.5,2321.2 840.8,2337.6C842.1,2354 842.8,2379 844.2,2400C845.7,2421 847.7,2448.7 849.5,2463.5C851.3,2478.3 852.8,2479.7 854.8,2488.9C856.8,2498.1 859.1,2507.9 861.2,2518.5C863.3,2529.1 865.4,2543.2 867.5,2552.4C869.6,2561.6 871.1,2569.1 873.9,2573.5C876.7,2577.9 880.5,2579.9 884.4,2578.8C888.3,2577.8 893.9,2568.8 897.1,2567.2C900.3,2565.6 901.4,2566.5 903.5,2569.3C905.6,2572.1 907.5,2575.3 909.8,2584.1C912.1,2592.9 914.7,2616.9 917.2,2622.2C919.7,2627.5 922.2,2618.7 924.7,2615.9C927.2,2613.1 930,2603.9 932.1,2605.3C934.2,2606.7 934.4,2619 937.4,2624.3C940.4,2629.6 946.2,2633.1 950.1,2637C954,2640.9 957.8,2647.6 960.6,2647.6C963.4,2647.6 964.5,2644.8 967,2637C969.5,2629.2 972.6,2611.7 975.4,2601.1C978.2,2590.5 980.5,2580.4 983.9,2573.5C987.3,2566.6 991.7,2561.2 995.6,2559.8C999.5,2558.4 1004.6,2562.3 1007.2,2565.1C1009.8,2567.9 1009.6,2577 1011.4,2576.7C1013.2,2576.3 1015.7,2571.3 1017.8,2563C1019.9,2554.7 1021.3,2539 1024.1,2527C1026.9,2515 1031.5,2501.6 1034.7,2491C1037.9,2480.4 1040,2474.4 1043.2,2463.5C1046.4,2452.6 1050.6,2434.6 1053.8,2425.4C1057,2416.2 1060.2,2421 1062.2,2408.5C1064.2,2396 1064.7,2368.9 1065.9,2350.6C1067.1,2332.3 1068.4,2316.1 1069.4,2298.8C1070.4,2281.6 1071.2,2262.9 1072,2247.1C1072.8,2231.3 1073.5,2218.3 1074.5,2203.9C1075.5,2189.5 1076.8,2174.3 1078,2160.8C1079.2,2147.3 1080.2,2134.9 1081.5,2122.8C1082.8,2110.7 1084.2,2098.1 1085.8,2088.3C1087.4,2078.5 1089.2,2069.4 1090.9,2064.2C1092.6,2059 1094.5,2057.6 1096.1,2057.3C1097.7,2057 1098.7,2059.2 1100.4,2062.4C1102.1,2065.6 1104.8,2069.9 1106.5,2076.2C1108.2,2082.5 1109.5,2092.1 1110.8,2100.4C1112.1,2108.8 1113.3,2116.2 1114.3,2126.3C1115.3,2136.4 1115.9,2146.4 1116.9,2160.8C1117.9,2175.2 1119.2,2195.3 1120.3,2212.6C1121.4,2229.8 1122.6,2247.1 1123.8,2264.3C1125,2281.6 1126,2298.8 1127.2,2316.1C1128.4,2333.4 1129.7,2352.1 1130.7,2367.9C1131.7,2383.7 1132.5,2395.7 1133.3,2411C1134.1,2426.3 1135,2443.5 1135.8,2460C1136.6,2476.5 1137.1,2492.2 1138,2510C1138.9,2527.8 1140,2546.9 1141.2,2567C1142.4,2587.1 1144,2611.1 1145.4,2630.5C1146.8,2649.9 1148,2668.5 1149.6,2683.4C1151.2,2698.3 1153.2,2709.7 1155,2720C1156.8,2730.3 1158.6,2737 1160.2,2745C1161.8,2753 1163.3,2759.7 1164.8,2767.8C1166.3,2775.9 1168.1,2787.1 1169.4,2793.7C1170.7,2800.3 1171.3,2804.5 1172.7,2807.6C1174.1,2810.7 1175.9,2812.7 1177.8,2812.2C1179.7,2811.7 1182.8,2805.1 1184.3,2804.8C1185.8,2804.5 1185.8,2806.5 1187,2810.4C1188.2,2814.3 1189.9,2822 1191.7,2828C1193.5,2834 1196.4,2843.6 1198.1,2846.5C1199.8,2849.4 1199.9,2846.8 1201.9,2845.6C1203.9,2844.4 1207.1,2841.1 1210.2,2839.1C1213.3,2837.1 1218.1,2835.7 1220.4,2833.5C1222.7,2831.3 1222.4,2828.4 1224.1,2826.1C1225.8,2823.8 1228.6,2820.5 1230.6,2819.6C1232.6,2818.7 1234.2,2820.4 1236.1,2820.6C1237.9,2820.8 1240.2,2821.8 1241.7,2820.6C1243.2,2819.3 1243.9,2817.3 1245.4,2813.1C1246.9,2808.9 1249.2,2803.1 1250.9,2795.6C1252.6,2788.1 1253.2,2781.4 1255.4,2768C1257.6,2754.6 1261.4,2734.5 1263.9,2715.1C1266.4,2695.7 1268.2,2672.8 1270.3,2651.6C1272.4,2630.4 1274.5,2607.5 1276.6,2588.1C1278.7,2568.7 1280.9,2551.1 1283,2535.2C1285.1,2519.3 1287.4,2503.1 1289.3,2492.9C1291.2,2482.7 1292.6,2475.7 1294.6,2473.9C1296.5,2472.1 1299.1,2477.4 1301,2482.3C1302.9,2487.2 1304.6,2495.7 1306.2,2503.5C1307.8,2511.3 1308.7,2520.8 1310.5,2528.9C1312.3,2537 1314.7,2543 1316.8,2552.2C1318.9,2561.4 1321.1,2574.4 1323.2,2583.9C1325.3,2593.4 1327,2602.6 1329.5,2609.3C1332,2616 1334.8,2619.5 1338,2624.1C1341.2,2628.7 1345.8,2632.2 1348.6,2636.8C1351.4,2641.4 1353.1,2643.8 1354.9,2651.6C1356.7,2659.4 1357.8,2672.8 1359.2,2683.4C1360.6,2694 1362,2704.9 1363.4,2715.1C1364.8,2725.3 1365.8,2738 1367.6,2744.8C1369.4,2751.6 1371.5,2749.2 1374,2756C1376.5,2762.8 1380.2,2774.8 1382.7,2785.4C1385.2,2796 1386.9,2808.4 1389,2819.3C1391.1,2830.2 1393.3,2840.8 1395.4,2851C1397.5,2861.2 1399.2,2874.2 1401.7,2880.6C1404.2,2886.9 1407.4,2885.9 1410.2,2889.1C1413,2892.3 1416.2,2893.3 1418.7,2899.7C1421.2,2906 1422.5,2915.2 1425,2927.2C1427.5,2939.2 1430.7,2958.5 1433.5,2971.6C1436.3,2984.7 1439.2,2995.3 1442,3005.5C1444.8,3015.7 1447.6,3024.5 1450.4,3033C1453.2,3041.5 1456.4,3050.5 1458.9,3056.3C1461.4,3062.1 1462.6,3064.7 1465.2,3067.9C1467.8,3071.1 1472,3069.5 1474.8,3075.3C1477.6,3081.1 1479.9,3093.7 1482.2,3102.9C1484.5,3112.1 1486.4,3120.5 1488.5,3130.4C1490.6,3140.3 1492.8,3154.5 1494.9,3162.1C1497,3169.7 1499.1,3175.9 1501.2,3175.9C1503.3,3175.9 1505.3,3166.9 1507.6,3162.1C1509.9,3157.3 1512.9,3147.7 1515,3147.3C1517.1,3147 1518.4,3154.7 1520.3,3160C1522.2,3165.3 1524.1,3174.4 1526.6,3179C1529.1,3183.6 1532.3,3184 1535.1,3187.5C1537.9,3191 1540.3,3197.8 1543.5,3200C1546.7,3202.2 1549.5,3201.3 1554.1,3201C1558.7,3200.7 1566,3197.4 1571,3198.3C1576,3199.2 1579.7,3206.9 1584,3206.7C1588.3,3206.5 1592.9,3195.9 1597.1,3197.1C1601.3,3198.3 1605,3211.2 1609,3213.8C1613,3216.4 1617,3207.6 1621,3212.6C1625,3217.6 1628.9,3240.8 1632.9,3243.6C1636.9,3246.4 1640.5,3227.1 1644.8,3229.3C1649.1,3231.5 1654.6,3249.9 1659,3256.7C1663.4,3263.4 1667,3266.4 1671,3269.8C1675,3273.2 1678,3271.2 1682.9,3276.9C1687.9,3282.7 1695,3303.1 1700.7,3304.3C1706.5,3305.5 1712,3282.8 1717.4,3284C1722.8,3285.2 1728.1,3311.8 1732.9,3311.4C1737.7,3311 1741.7,3281.1 1746,3281.7C1750.3,3282.3 1755,3310.6 1759,3315C1763,3319.4 1765.4,3307.5 1769.8,3307.9C1774.2,3308.3 1780.5,3314 1785.2,3317.4C1790,3320.8 1794.3,3327.1 1798.3,3328.1C1802.3,3329.1 1804.8,3322.9 1809,3323.3C1813.2,3323.7 1818.5,3329.9 1823.3,3330.5C1828.1,3331.1 1833,3331.7 1837.6,3326.9C1842.2,3322.1 1846.3,3301.3 1850.7,3301.9C1855.1,3302.5 1859.4,3326 1863.8,3330.5C1868.2,3335 1872.1,3325.8 1877,3329C1881.9,3332.2 1887.9,3348.1 1893.2,3349.5C1898.5,3350.9 1904.9,3338.2 1909.1,3337.6C1913.3,3336.9 1914.9,3340.1 1918.4,3345.6C1921.9,3351.1 1925.9,3370.5 1930.3,3370.7C1934.7,3370.9 1939.9,3345.8 1944.8,3346.9C1949.7,3348 1954.8,3370.7 1959.4,3377.3C1964,3383.9 1968.2,3383.1 1972.6,3386.6C1977,3390.1 1981.4,3393 1985.8,3398.5C1990.2,3404 1995,3417 1999,3419.6C2003,3422.2 2005.6,3413.4 2009.6,3414.3C2013.6,3415.2 2018.7,3424 2022.9,3424.9C2027.1,3425.8 2031.3,3419.8 2034.8,3419.6C2038.3,3419.4 2040.7,3423.8 2044,3423.6C2047.3,3423.4 2050.2,3416.5 2054.6,3418.3C2059,3420.1 2065.2,3433.1 2070.5,3434.2C2075.8,3435.3 2081.9,3425.8 2086.3,3424.9C2090.7,3424 2093.4,3429.8 2096.9,3428.9C2100.4,3428 2103.5,3418.3 2107.5,3419.6C2111.5,3420.9 2116.5,3436.1 2120.7,3436.8C2124.9,3437.5 2128.8,3425.4 2132.6,3423.6C2136.3,3421.8 2138.6,3428.6 2143.2,3426.2C2147.8,3423.8 2155.8,3411 2160.4,3409C2165,3407 2167,3410.6 2171,3414.3C2175,3418.1 2179.3,3430.4 2184.2,3431.5C2189,3432.6 2194.4,3421.7 2200.1,3421C2205.8,3420.3 2213.3,3423 2218.6,3427.6C2223.9,3432.2 2227.5,3443.2 2231.9,3448.7C2236.3,3454.2 2240.3,3459.7 2245.1,3460.6C2249.9,3461.5 2256.7,3454.7 2260.9,3454C2265.1,3453.3 2268.6,3456.2 2270.2,3456.7" fill="none" stroke="#000" stroke-width="7" stroke-linejoin="round" stroke-linecap="round"/>
<path d="M284.8,3474.5C286.4,3474.1 290.4,3474.1 294.5,3472.1C298.6,3470.1 304.5,3464.4 309.1,3462.4C313.8,3460.4 317.5,3461.8 322.4,3460C327.2,3458.2 332.3,3455.9 338.2,3451.5C344.1,3447.1 351.1,3441 357.6,3433.3C364.1,3425.6 371.4,3410.3 377,3405.5C382.6,3400.7 387.1,3410.1 391.5,3404.2C395.9,3398.3 399.2,3378 403.7,3370.3C408.1,3362.6 412.9,3364.7 418.2,3358.2C423.4,3351.7 429.1,3338.4 435.2,3331.5C441.3,3324.6 449.4,3320.6 454.6,3317C459.9,3313.4 461.4,3321 466.7,3309.7C471.9,3298.4 480.1,3263.6 486.1,3249.1C492.2,3234.6 498.4,3235.2 503,3222.4C507.6,3209.6 511.2,3183.2 514,3172C516.8,3160.8 518,3162 520,3155C522,3148 524,3139.2 526,3130C528,3120.8 529.8,3113.1 532,3100C534.2,3086.9 537,3066.9 539,3051.4C541,3035.9 542.2,3020.8 543.8,3007C545.4,2993.2 546.8,2979.5 548.6,2968.9C550.5,2958.3 552.5,2949.6 554.9,2943.5C557.3,2937.4 560.5,2936.9 562.9,2932.4C565.3,2927.9 566.9,2921.4 569.2,2916.5C571.5,2911.6 574.4,2903.7 576.5,2902.9C578.6,2902.1 580.2,2903.9 581.9,2911.7C583.6,2919.5 585.1,2937.1 586.7,2949.8C588.3,2962.5 589.5,2974.1 591.4,2987.9C593.2,3001.7 595.9,3021.8 597.8,3032.4C599.6,3043 600.6,3042.4 602.5,3051.4C604.4,3060.4 606.8,3073.6 608.9,3086.3C611,3099 613.1,3116.5 615.2,3127.6C617.3,3138.7 619.2,3145.3 621.6,3153C624,3160.7 626.1,3169.7 629.5,3173.7C632.9,3177.7 638,3174.2 642.2,3176.8C646.4,3179.4 650.7,3190.3 654.9,3189.5C659.1,3188.7 663.6,3174.2 667.6,3172.1C671.6,3170 675.8,3178.1 678.7,3176.8C681.6,3175.5 682.7,3171.8 685.1,3164.1C687.5,3156.4 690.6,3137.4 693,3130.8C695.4,3124.2 697,3123.4 699.4,3124.4C701.8,3125.4 704.7,3133.7 707.3,3137.1C709.9,3140.5 712.3,3145.9 715.2,3145.1C718.1,3144.3 721.3,3136.4 724.8,3132.4C728.2,3128.4 732.5,3124.5 735.9,3121.3C739.3,3118.1 741.7,3112.8 745.4,3113.3C749.1,3113.8 753.9,3126 758.1,3124.4C762.3,3122.8 767.1,3106.4 770.8,3103.8C774.5,3101.2 776.6,3111 780.3,3108.6C784,3106.2 789.8,3093.5 793,3089.5C796.2,3085.5 796.2,3086.4 799.4,3084.8C802.6,3083.2 808.4,3079.8 812.1,3080C815.8,3080.2 817.9,3080 821.6,3086.3C825.3,3092.7 830.6,3110.2 834.3,3118.1C838,3126 840.1,3125 843.8,3134C847.5,3143 852.9,3163.5 856.5,3172.1C860.1,3180.7 862.5,3181.6 865.3,3185.3C868.1,3189.1 870.8,3190.8 873.2,3194.6C875.6,3198.3 877.8,3204.3 879.8,3207.8C881.8,3211.3 882.5,3215.8 885.1,3215.8C887.8,3215.8 892.6,3207.6 895.7,3207.8C898.8,3208 901.1,3214.9 903.7,3217.1C906.4,3219.3 908.8,3222 911.6,3221.1C914.5,3220.2 917.7,3214.2 920.8,3211.8C923.9,3209.4 927.2,3206.3 930.1,3206.5C933,3206.7 935.6,3208.9 938,3213.1C940.4,3217.3 942.5,3227.2 944.7,3231.6C946.9,3236 948.7,3239.6 951.3,3239.6C953.9,3239.6 957.6,3233.6 960.5,3231.6C963.4,3229.6 964.5,3228.1 968.5,3227.7C972.5,3227.3 980.3,3231 984.3,3229C988.3,3227 989.6,3219.8 992.3,3215.8C994.9,3211.8 997.1,3207 1000.2,3205.2C1003.3,3203.4 1007.3,3206.5 1010.8,3205.2C1014.3,3203.9 1018.3,3200.3 1021.4,3197.2C1024.5,3194.1 1026.9,3190 1029.3,3186.7C1031.7,3183.4 1032.8,3178.5 1035.9,3177.4C1039,3176.3 1044.7,3182.4 1047.8,3180C1050.9,3177.6 1052.2,3170.2 1054.4,3162.9C1056.6,3155.6 1058.2,3143 1061.1,3136.4C1064,3129.8 1068.5,3129.4 1071.6,3123.2C1074.7,3117 1076.9,3108.7 1079.6,3099.4C1082.2,3090.1 1084.9,3074.9 1087.5,3067.6C1090.1,3060.3 1092.8,3055.7 1095.4,3055.7C1098.1,3055.7 1100.8,3062.1 1103.4,3067.6C1106.1,3073.1 1108.7,3081.3 1111.3,3088.8C1113.9,3096.3 1116.6,3102 1119.3,3112.6C1122,3123.2 1124.6,3136.9 1127.2,3152.3C1129.8,3167.7 1132.2,3189.8 1135.1,3205.2C1138,3220.6 1141.8,3237.1 1144.4,3244.9C1147.1,3252.7 1148.3,3246.6 1151,3252C1153.7,3257.4 1158.1,3270.2 1160.6,3277.6C1163.1,3284.9 1164.1,3289.9 1165.9,3296.1C1167.7,3302.3 1169.2,3310 1171.2,3314.6C1173.2,3319.2 1174.7,3322.1 1177.8,3323.9C1180.9,3325.7 1186.8,3326.3 1189.7,3325.2C1192.6,3324.1 1193,3319.4 1195,3317.2C1197,3315 1199.6,3311.6 1201.6,3312C1203.6,3312.4 1204.9,3316.8 1206.9,3319.9C1208.9,3323 1210.6,3328.1 1213.5,3330.5C1216.4,3332.9 1220.8,3333.1 1224.1,3334.4C1227.4,3335.7 1230.4,3338.8 1233.3,3338.4C1236.2,3338 1238.4,3336.2 1241.3,3331.8C1244.2,3327.4 1247.2,3317.1 1250.5,3312C1253.8,3306.9 1258.4,3305.8 1261.1,3301.4C1263.8,3297 1264.2,3293.4 1266.4,3285.5C1268.6,3277.6 1271.7,3263.5 1274.3,3253.8C1276.9,3244.1 1279.2,3234.1 1282.3,3227.3C1285.4,3220.5 1289.8,3213.7 1292.9,3212.8C1296,3211.9 1298.2,3218.7 1300.8,3222C1303.4,3225.3 1305.8,3231 1308.7,3232.6C1311.6,3234.2 1315.3,3230 1318,3231.3C1320.7,3232.6 1322.4,3236.5 1324.6,3240.5C1326.8,3244.5 1328.5,3253.3 1331.2,3255.1C1333.9,3256.9 1337.6,3250.9 1340.5,3251.1C1343.4,3251.3 1345.3,3249.3 1348.4,3256.4C1351.5,3263.5 1355.9,3282.4 1359,3293.4C1362.1,3304.4 1363.8,3315.7 1366.9,3322.5C1370,3329.3 1374.4,3330.4 1377.5,3334.4C1380.6,3338.4 1383.2,3342.8 1385.4,3346.3C1387.6,3349.8 1387.6,3354.3 1390.7,3355.6C1393.8,3356.9 1400.5,3352.5 1404,3354.3C1407.5,3356.1 1408.8,3362.2 1411.9,3366.2C1415,3370.2 1419,3373 1422.5,3378.1C1426,3383.2 1429.1,3393.3 1433.1,3396.6C1437.1,3399.9 1442.3,3396.6 1446.3,3397.9C1450.3,3399.2 1452.9,3402.2 1456.9,3404.6C1460.9,3407 1465.7,3411.2 1470.1,3412.5C1474.5,3413.8 1478.9,3409.6 1483.3,3412.5C1487.7,3415.4 1492.2,3427.5 1496.6,3429.7C1501,3431.9 1505.4,3424.8 1509.8,3425.7C1514.2,3426.6 1518.6,3434.1 1523,3435C1527.4,3435.9 1531.6,3429.8 1536.2,3431C1540.8,3432.2 1546.3,3440.6 1550.7,3442.1C1555.1,3443.6 1559,3439.6 1562.6,3439.8C1566.2,3440 1567.7,3444.8 1572.1,3443.3C1576.5,3441.8 1583.8,3431.9 1588.8,3431C1593.8,3430.1 1596.5,3436.2 1601.9,3438.1C1607.3,3439.9 1615.5,3442.5 1621,3442.1C1626.5,3441.7 1630.9,3436.1 1635.2,3435.7C1639.5,3435.3 1642.7,3438.9 1647.1,3439.8C1651.5,3440.7 1657.4,3441.1 1661.4,3441C1665.4,3440.9 1666.8,3437.8 1671,3439.3C1675.2,3440.8 1682.1,3449 1686.4,3450C1690.8,3451 1692.5,3444.4 1697.1,3445.2C1701.7,3446 1708,3455.5 1713.8,3454.8C1719.6,3454.1 1726.5,3441.1 1731.7,3441C1736.9,3440.9 1739.8,3451.2 1744.8,3454C1749.8,3456.8 1756.5,3458.5 1761.4,3458.1C1766.4,3457.7 1770.5,3452.2 1774.5,3451.7C1778.5,3451.2 1781,3456.4 1785.2,3455.2C1789.4,3454 1794.5,3444.3 1799.5,3444.5C1804.5,3444.7 1810.6,3455.1 1815,3456.4C1819.4,3457.7 1821.5,3453.5 1825.7,3452.4C1829.9,3451.3 1834.8,3451.3 1840,3450C1845.2,3448.7 1851.5,3444.3 1856.7,3444.5C1861.9,3444.7 1866.6,3449.9 1871,3451C1875.4,3452.1 1877.9,3450.3 1882.9,3451.2C1887.9,3452 1896,3455.2 1901.2,3456.1C1906.5,3457 1909.6,3455.8 1914.4,3456.7C1919.2,3457.6 1925,3460.8 1930.3,3461.4C1935.6,3462.1 1941.2,3460.4 1946.1,3460.6C1950.9,3460.8 1954.1,3461.5 1959.4,3462.5C1964.7,3463.5 1973.1,3466.3 1977.9,3466.7C1982.8,3467 1984.5,3464.1 1988.5,3464.6C1992.5,3465.1 1996.9,3469.6 2001.7,3469.9C2006.5,3470.2 2011.9,3467.7 2017.6,3466.7C2023.3,3465.7 2029.9,3463.2 2036.1,3464.1C2042.3,3465 2048.9,3471.7 2054.6,3472C2060.3,3472.3 2065.2,3465.8 2070.5,3465.9C2075.8,3466 2081.5,3472.6 2086.3,3472.5C2091.2,3472.4 2094.8,3465.4 2099.6,3465.1C2104.4,3464.8 2109.7,3469.9 2115.4,3470.4C2121.1,3470.9 2127.8,3468.9 2134,3467.8C2140.2,3466.8 2146.8,3464 2152.5,3464.1C2158.2,3464.2 2161.8,3468 2168.4,3468.3C2175,3468.6 2182.9,3466.2 2192.2,3465.9C2201.4,3465.6 2216.4,3465.6 2223.9,3466.7C2231.4,3467.8 2229.6,3471.3 2237.1,3472.5C2244.6,3473.7 2263.6,3473.7 2268.9,3473.9" fill="none" stroke="#ff0000" stroke-width="7.2" stroke-linejoin="round" stroke-linecap="round"/>
</svg></body></html>
